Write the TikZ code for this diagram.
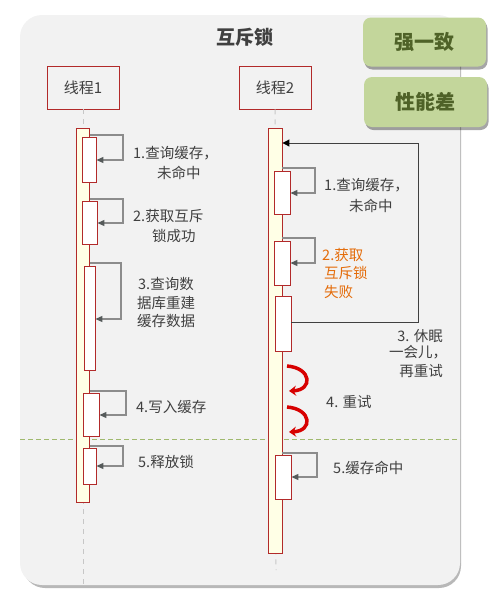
\documentclass[tikz,border=0pt]{standalone}
\usepackage{fontspec}
\setmainfont{Noto Sans CJK SC}
\usetikzlibrary{arrows.meta,shadows}
\definecolor{panelgray}{RGB}{242,242,242}
\definecolor{boxred}{RGB}{178,42,42}
\definecolor{baryellow}{RGB}{255,255,230}
\definecolor{textgray}{RGB}{64,64,64}
\definecolor{linegray}{RGB}{140,140,140}
\definecolor{tipgray}{RGB}{85,90,90}
\definecolor{tagfill}{RGB}{195,214,155}
\definecolor{tagtext}{RGB}{79,98,40}
\definecolor{failorange}{RGB}{228,108,10}
\definecolor{sepgreen}{RGB}{160,185,110}
\definecolor{retryred}{RGB}{215,0,0}
\begin{document}
\begin{tikzpicture}[x=1pt,y=-1pt,
    lane/.style={draw=boxred,line width=0.9pt,minimum width=72,minimum height=43,
      text=textgray,font=\fontsize{15}{18}\selectfont},
    lifeline/.style={draw=black!22,line width=1pt,dash pattern=on 5pt off 5pt},
    bar/.style={draw=boxred,fill=baryellow,line width=0.9pt,inner sep=0},
    act/.style={draw=boxred,fill=white,line width=0.9pt,inner sep=0},
    callarrow/.style={draw=linegray,line width=1.2pt,
      -{Triangle[length=7pt,width=6pt,color=tipgray]}},
    loopline/.style={draw=black!75,line width=1pt,-{Triangle[length=7pt,width=7pt,color=black]}},
    retry/.style={draw=retryred,line width=3.5pt,-{Stealth[length=7pt,width=10pt]}},
    note/.style={text=textgray,font=\fontsize{14.5}{17}\selectfont,inner sep=0,anchor=west},
    tag/.style={fill=tagfill,rounded corners=8pt,text=tagtext,font=\fontsize{20}{24}\bfseries,
      drop shadow={shadow xshift=1.5pt,shadow yshift=-3pt,opacity=0.35,fill=black}}]
  \useasboundingbox (0,0) rectangle (499,600);
  % panel
  \fill[black!28,rounded corners=22pt] (23,21) rectangle (461,588);
  \fill[panelgray,rounded corners=22pt] (20,15) rectangle (460,585);
  \node[text=textgray,font=\fontsize{19}{22}\bfseries] (title) at (245,37) {互斥锁};
  \draw[sepgreen,line width=0.9pt,dash pattern=on 5pt off 3pt] (20,439) -- (460,439);

  % threads
  \node[lane] (lane1) at (83,87.5) {线程1};
  \node[lane] (lane2) at (275,87.5) {线程2};
  \coordinate (end1) at (83,584);
  \coordinate (end2) at (276,570);
  \draw[lifeline] (lane1.south) -- (end1);
  \draw[lifeline] (lane2.south) -- (end2);
  \node[bar,minimum width=13,minimum height=374] (bar1) at (83,315) {};
  \node[bar,minimum width=14,minimum height=425] (bar2) at (275,340.5) {};

  % thread 1
  \node[act,minimum width=14,minimum height=45] (c1) at (89,159.5) {};
  \node[act,minimum width=15,minimum height=43] (c2) at (89.5,222.5) {};
  \node[act,minimum width=11,minimum height=104] (c3) at (89.5,318) {};
  \node[act,minimum width=16,minimum height=43] (c4) at (91,414.5) {};
  \node[act,minimum width=13,minimum height=36] (c5) at (89.5,466) {};
  \draw[callarrow] (bar1.east |- 0,135) -| (123,160) -- (c1.east |- 0,160);
  \draw[callarrow] (bar1.east |- 0,199) -| (123,223) -- (c2.east |- 0,223);
  \draw[callarrow] (bar1.east |- 0,263) -| (121,319) -- (c3.east |- 0,319);
  \draw[callarrow] (bar1.east |- 0,391) -| (126,415) -- (c4.east |- 0,415);
  \draw[callarrow] (bar1.east |- 0,446) -| (123,466) -- (c5.east |- 0,466);
  \node[note] (n1a) at (133,153) {1.查询缓存，};
  \node[note] (n1b) at (157,173) {未命中};
  \node[note] (n2a) at (133,216) {2.获取互斥};
  \node[note] (n2b) at (152,236) {锁成功};
  \node[note] (n3a) at (138,284) {3.查询数};
  \node[note] (n3b) at (137,303) {据库重建};
  \node[note] (n3c) at (137,321) {缓存数据};
  \node[note] (n4) at (136,407) {4.写入缓存};
  \node[note] (n5) at (138,462) {5.释放锁};

  % thread 2
  \node[act,minimum width=16,minimum height=43] (d1) at (282,192.5) {};
  \node[act,minimum width=16,minimum height=44] (d2) at (282,263) {};
  \node[act,minimum width=16,minimum height=55] (d3) at (283,323.5) {};
  \node[act,minimum width=16,minimum height=44] (d5) at (283,477) {};
  \draw[callarrow] (bar2.east |- 0,168) -| (315,193) -- (d1.east |- 0,193);
  \draw[callarrow] (bar2.east |- 0,238) -| (315,263) -- (d2.east |- 0,263);
  \draw[callarrow] (bar2.east |- 0,453) -| (317,477) -- (d5.east |- 0,477);
  \draw[loopline] (d3.east |- 0,322) -- (418,322) -- (418,143) -- (bar2.east |- 0,143);
  \coordinate (r1s) at (287,366);
  \coordinate (r1e) at (289,391);
  \coordinate (r2s) at (287,407);
  \coordinate (r2e) at (289,432);
  \draw[retry] (r1s) .. controls (312,368) and (313,390) .. (r1e);
  \draw[retry] (r2s) .. controls (312,409) and (313,431) .. (r2e);
  \node[note] (m1a) at (324,185) {1.查询缓存，};
  \node[note] (m1b) at (349,206) {未命中};
  \node[note,text=failorange] (m2a) at (322,255) {2.获取};
  \node[note,text=failorange] (m2b) at (324,273) {互斥锁};
  \node[note,text=failorange] (m2c) at (324,292) {失败};
  \node[note,anchor=east] (m3a) at (443,336) {3. 休眠};
  \node[note] (m3b) at (389,352) {一会儿，};
  \node[note,anchor=east] (m3c) at (443,371) {再重试};
  \node[note] (m4) at (326,402) {4. 重试};
  \node[note] (m5) at (333,468) {5.缓存命中};

  % tags
  \node[tag,minimum width=123,minimum height=49] (strong) at (424.5,42) {强一致};
  \node[tag,minimum width=123,minimum height=50] (slow) at (425.5,102) {性能差};
\end{tikzpicture}
\end{document}
